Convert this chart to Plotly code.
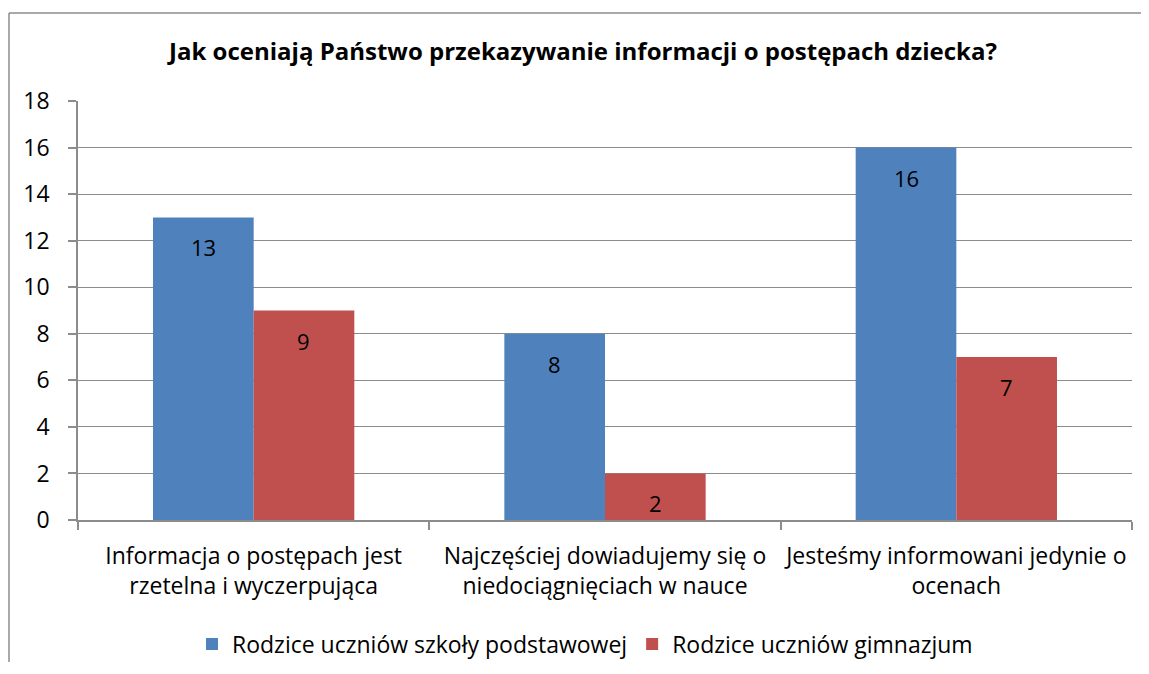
import plotly.graph_objects as go

categories = [
    "Informacja o postępach jest<br>rzetelna i wyczerpująca",
    "Najczęściej dowiadujemy się o<br>niedociągnięciach w nauce",
    "Jesteśmy informowani jedynie o<br>ocenach",
]
series_names = ["Rodzice uczniów szkoły podstawowej", "Rodzice uczniów gimnazjum"]
primary = [13, 8, 16]
gimnazjum = [9, 2, 7]
y_ticks = [0, 2, 4, 6, 8, 10, 12, 14, 16, 18]
title = "Jak oceniają Państwo przekazywanie informacji o postępach dziecka?"

FONT = "Open Sans"
colors = ["#4F81BD", "#C0504D"]
grid = "#8C8C8C"

OFF = 8  # page body margin
W, H = 1149 - 2 * OFF, 674 - 2 * OFF - 4
L = 78 - OFF
T = 101 - OFF
R = W - (1132 - OFF)
B = H - (520 - OFF)
pw = W - L - R
ph = H - T - B

fig = go.Figure()
for name, vals, col in zip(series_names, [primary, gimnazjum], colors):
    fig.add_trace(go.Bar(x=categories, y=vals, name=name, marker=dict(color=col, line=dict(width=0))))

bargap = 0.427
cat_px = pw / len(categories)
bar_px = cat_px * (1 - bargap) / 2

annotations = []
for i, vals in enumerate([primary, gimnazjum]):
    shift = (-0.5 if i == 0 else 0.5) * bar_px
    for c, v in zip(categories, vals):
        annotations.append(dict(x=c, y=v, xref="x", yref="y", text=str(v), showarrow=False,
                                xshift=shift, yshift=-30, yanchor="middle",
                                font=dict(family=FONT, size=22, color="black")))

fx0 = (9 - 78) / pw
fx1 = 1 + R / pw
fy0 = -B / ph
fy1 = (520 - 13) / ph
fig.update_layout(
    width=W, height=H,
    margin=dict(l=L, r=R, t=T, b=B, autoexpand=False),
    paper_bgcolor="white", plot_bgcolor="white",
    barmode="group", bargap=bargap, bargroupgap=0,
    font=dict(family=FONT, size=23, color="black"),
    title=dict(text="<b>" + title + "</b>", x=(583 - OFF) / W, xanchor="center",
               y=1 - (52 - OFF) / H, yanchor="middle", yref="container",
               font=dict(family=FONT, size=24, color="black")),
    showlegend=True,
    legend=dict(orientation="h", x=(585 - 78) / pw, xanchor="center", y=(520 - 644) / ph, yanchor="middle",
                font=dict(family=FONT, size=23), itemwidth=30, traceorder="normal"),
    annotations=annotations,
    shapes=[
        dict(type="line", xref="paper", yref="paper", x0=fx0, x1=fx0, y0=fy0, y1=fy1,
             line=dict(color=grid, width=1.5), layer="below"),
        dict(type="line", xref="paper", yref="paper", x0=fx0, x1=fx1, y0=fy1, y1=fy1,
             line=dict(color=grid, width=1.5), layer="below"),
    ],
)
fig.update_xaxes(showline=True, linecolor=grid, linewidth=1.5, tickson="boundaries", ticks="outside",
                 ticklen=8, tickcolor=grid, tickwidth=1.5, showgrid=False, ticklabelstandoff=15,
                 tickangle=0, automargin=False,
                 tickfont=dict(family=FONT, size=23, color="black"))
fig.update_yaxes(range=[0, 18], tickvals=y_ticks, showline=True, linecolor=grid, linewidth=1.5,
                 ticks="outside", ticklen=8, tickcolor=grid, tickwidth=1.5, showgrid=True,
                 gridcolor=grid, gridwidth=1.2, zeroline=False, ticklabelstandoff=14, automargin=False,
                 tickfont=dict(family=FONT, size=23, color="black"))

fig.write_html("out.html")
